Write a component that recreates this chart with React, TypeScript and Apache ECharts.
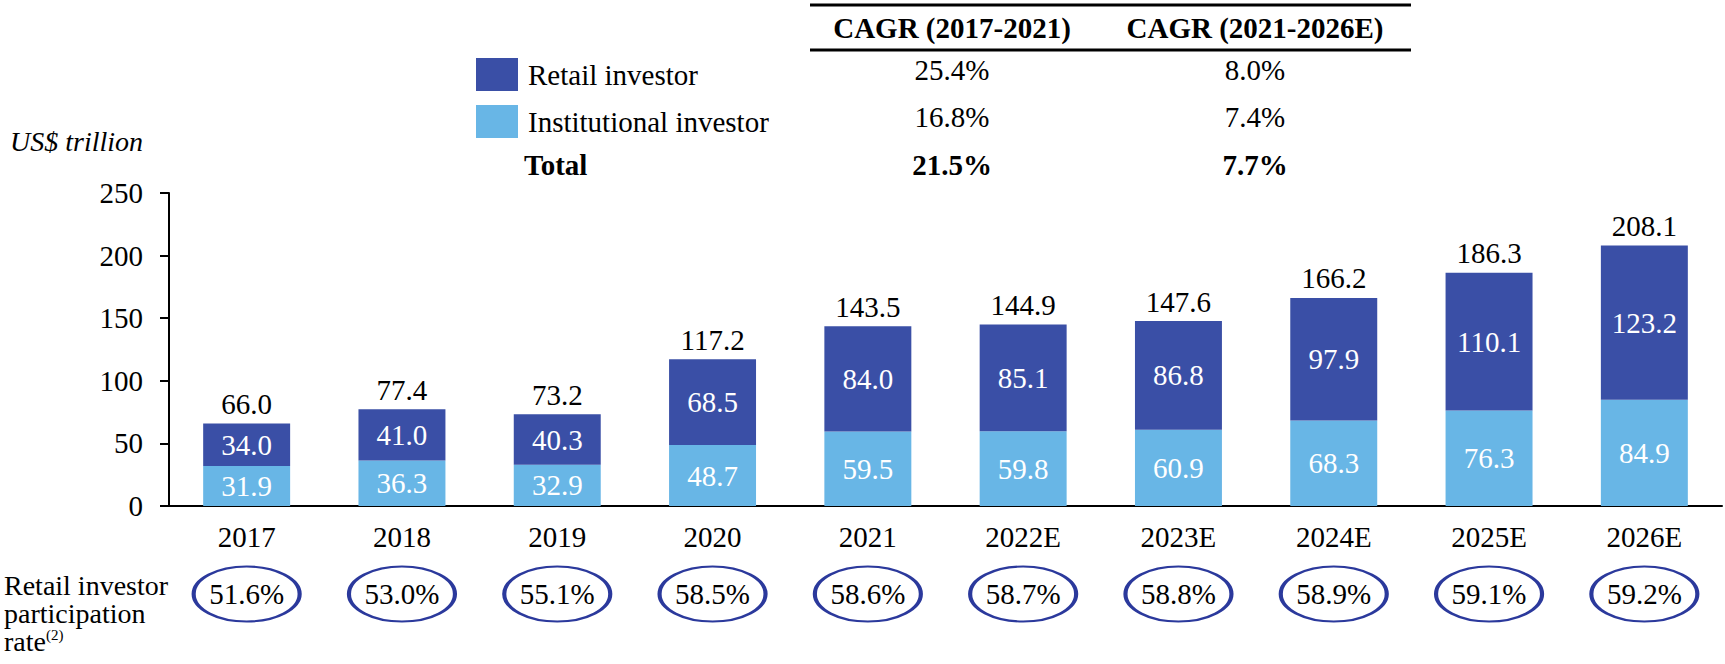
import React, { useEffect, useRef } from "react";
import * as echarts from "echarts";

const categories = ["2017", "2018", "2019", "2020", "2021", "2022E", "2023E", "2024E", "2025E", "2026E"];
const institutional = [31.9, 36.3, 32.9, 48.7, 59.5, 59.8, 60.9, 68.3, 76.3, 84.9];
const retail = [34.0, 41.0, 40.3, 68.5, 84.0, 85.1, 86.8, 97.9, 110.1, 123.2];
const totals = [66.0, 77.4, 73.2, 117.2, 143.5, 144.9, 147.6, 166.2, 186.3, 208.1];
const participation = [51.6, 53.0, 55.1, 58.5, 58.6, 58.7, 58.8, 58.9, 59.1, 59.2];

const yMin = 0;
const yMax = 250;
const yInterval = 50;

const cagrHeaders = ["CAGR (2017-2021)", "CAGR (2021-2026E)"];
const cagrRetail = ["25.4%", "8.0%"];
const cagrInstitutional = ["16.8%", "7.4%"];
const cagrTotal = ["21.5%", "7.7%"];

const FONT = '"Liberation Serif", "Times New Roman", serif';
const RETAIL_COLOR = "#3A4FA6";
const INST_COLOR = "#68B6E6";
const ELLIPSE_COLOR = "#2B399C";

const ELLIPSE_PATH =
  "path://M1,0 C1.552,0 2,0.448 2,1 C2,1.552 1.552,2 1,2 C0.448,2 0,1.552 0,1 C0,0.448 0.448,0 1,0 Z";

export default function App() {
  const ref = useRef<HTMLDivElement>(null);

  useEffect(() => {
    document.body.style.margin = "0";
    if (!ref.current) return;
    const chart = echarts.init(ref.current, undefined, { renderer: "svg" });

    const colX = [952, 1255];
    const rowY = [70, 117, 165];
    const tableText = (text: string, x: number, y: number, bold: boolean) => ({
      type: "text",
      x,
      y,
      style: {
        text,
        fontFamily: FONT,
        fontSize: 29,
        fontWeight: bold ? "bold" : "normal",
        fill: "#000",
        align: "center",
        verticalAlign: "middle",
      },
    });

    const graphics: any[] = [
      { type: "line", shape: { x1: 810, y1: 5, x2: 1411, y2: 5 }, style: { stroke: "#000", lineWidth: 3 } },
      { type: "line", shape: { x1: 810, y1: 50, x2: 1411, y2: 50 }, style: { stroke: "#000", lineWidth: 3 } },
      ...cagrHeaders.map((h, i) => tableText(h, colX[i], 28, true)),
      ...cagrRetail.map((v, i) => tableText(v, colX[i], rowY[0], false)),
      ...cagrInstitutional.map((v, i) => tableText(v, colX[i], rowY[1], false)),
      ...cagrTotal.map((v, i) => tableText(v, colX[i], rowY[2], true)),
      {
        type: "text",
        x: 524,
        y: rowY[2],
        style: { text: "Total", fontFamily: FONT, fontSize: 29, fontWeight: "bold", fill: "#000", align: "left", verticalAlign: "middle" },
      },
      {
        type: "text",
        x: 10,
        y: 141,
        style: { text: "US$ trillion", fontFamily: FONT, fontSize: 28, fontStyle: "italic", fill: "#000", align: "left", verticalAlign: "middle" },
      },
      {
        type: "text",
        x: 4,
        y: 571,
        style: {
          text: "{a|Retail investor}\n{a|participation}\n{a|rate}{s|(2)}",
          fontFamily: FONT,
          fill: "#000",
          align: "left",
          verticalAlign: "top",
          rich: {
            a: { fontFamily: FONT, fontSize: 28, lineHeight: 28, fill: "#000" },
            s: { fontFamily: FONT, fontSize: 15, lineHeight: 28, fill: "#000", verticalAlign: "top", padding: [0, 0, 10, 0] },
          },
        },
      },
    ];

    chart.setOption({
      animation: false,
      backgroundColor: "#fff",
      textStyle: { fontFamily: FONT },
      legend: {
        data: ["Retail investor", "Institutional investor"],
        orient: "vertical",
        left: 471,
        top: 53,
        itemWidth: 42,
        itemHeight: 33,
        itemGap: 14,
        icon: "rect",
        textStyle: { fontFamily: FONT, fontSize: 29, color: "#000", padding: [0, 0, 0, 5] },
        selectedMode: false,
      },
      grid: [
        { left: 169, right: 3, top: 193, bottom: 158, containLabel: false },
        { left: 169, right: 3, top: 567, height: 54, containLabel: false },
      ],
      xAxis: [
        {
          type: "category",
          gridIndex: 0,
          data: categories,
          axisLine: { lineStyle: { color: "#000", width: 2 } },
          axisTick: { show: false },
          axisLabel: { color: "#000", fontFamily: FONT, fontSize: 29, margin: 16 },
        },
        {
          type: "category",
          gridIndex: 1,
          data: categories,
          show: false,
        },
      ],
      yAxis: [
        {
          type: "value",
          gridIndex: 0,
          min: yMin,
          max: yMax,
          interval: yInterval,
          axisLine: { show: true, lineStyle: { color: "#000", width: 2 } },
          axisTick: { show: true, length: 9, lineStyle: { color: "#000", width: 2 } },
          splitLine: { show: false },
          axisLabel: { color: "#000", fontFamily: FONT, fontSize: 29, margin: 26 },
        },
        {
          type: "category",
          gridIndex: 1,
          data: ["rate"],
          show: false,
        },
      ],
      series: [
        {
          name: "Institutional investor",
          type: "bar",
          stack: "total",
          barWidth: "56%",
          data: institutional,
          itemStyle: { color: INST_COLOR },
          label: {
            show: true,
            position: "inside",
            color: "#fff",
            fontFamily: FONT,
            fontSize: 29,
            formatter: (p: any) => Number(p.value).toFixed(1),
          },
        },
        {
          name: "Retail investor",
          type: "bar",
          stack: "total",
          barWidth: "56%",
          data: retail,
          itemStyle: { color: RETAIL_COLOR },
          label: {
            show: true,
            position: "inside",
            color: "#fff",
            fontFamily: FONT,
            fontSize: 29,
            formatter: (p: any) => Number(p.value).toFixed(1),
          },
        },
        {
          name: "Total",
          type: "scatter",
          xAxisIndex: 0,
          yAxisIndex: 0,
          symbolSize: 0,
          itemStyle: { opacity: 1 },
          data: totals.map((t, i) => [categories[i], t]),
          label: {
            show: true,
            position: "top",
            distance: 5,
            color: "#000",
            fontFamily: FONT,
            fontSize: 29,
            formatter: (p: any) => Number(p.value[1]).toFixed(1),
          },
          z: 5,
        },
        {
          name: "Participation",
          type: "scatter",
          xAxisIndex: 1,
          yAxisIndex: 1,
          symbol: ELLIPSE_PATH,
          symbolSize: [106, 55],
          itemStyle: { color: "#fff", borderColor: ELLIPSE_COLOR, borderWidth: 3, opacity: 1 },
          data: participation.map((v, i) => [categories[i], "rate", v]),
          label: {
            show: true,
            position: "inside",
            color: "#000",
            fontFamily: FONT,
            fontSize: 29,
            formatter: (p: any) => Number(p.value[2]).toFixed(1) + "%",
          },
        },
      ],
      graphic: graphics,
    });

    return () => chart.dispose();
  }, []);

  return <div ref={ref} style={{ width: 1725, height: 664 }} />;
}
